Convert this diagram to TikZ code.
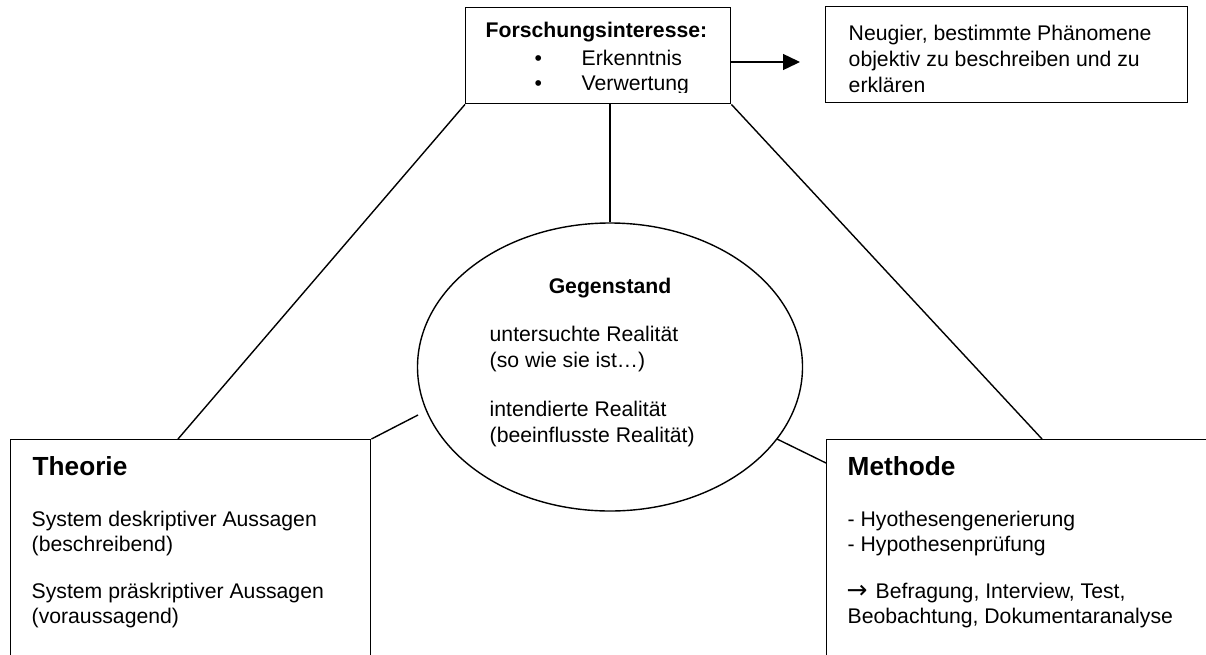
\documentclass[tikz,border=0pt]{standalone}
\usepackage{fontspec}
\setmainfont{Liberation Sans}
\newfontfamily\arrowfont{DejaVu Sans}
\usetikzlibrary{shapes.geometric,arrows.meta}

\begin{document}
\begin{tikzpicture}[x=1pt,y=-1pt,line width=1.4pt,
  box/.style={draw,rectangle,inner sep=0pt,anchor=north west},
  txt/.style={anchor=base west,inner sep=0pt,font=\fontsize{21.2}{25.7}\selectfont},
  bold/.style={anchor=base west,inner sep=0pt,font=\fontsize{21.2}{25.7}\selectfont\bfseries},
  title/.style={anchor=base west,inner sep=0pt,font=\fontsize{26.2}{30}\selectfont\bfseries},
  link/.style={draw,line width=1.4pt}]
\clip (0,0) rectangle (1206,654);

% boxes and the central ellipse
\node[box,minimum width=265pt,minimum height=96pt] (frage) at (465,7) {};
\node[box,minimum width=362pt,minimum height=96pt] (neugier) at (825,6) {};
\node[box,minimum width=360pt,minimum height=300pt] (theorie) at (10,439) {};
\node[box,minimum width=420pt,minimum height=300pt] (methode) at (826,439) {};
\node[draw,ellipse,inner sep=0pt,minimum width=385pt,minimum height=288pt] (gegen) at (610,367) {};

% free ends of the connectors
\coordinate (tip) at (800,62);
\coordinate (tlinks) at (178,439);
\coordinate (trechts) at (1042,439);
\coordinate (elinks) at (418,415);
\coordinate (mlinks) at (826,463);
\coordinate (erechts) at (777,439);

% connectors
\draw[-{Triangle[length=17pt,width=16pt]}] (frage.east |- tip) -- (tip);
\draw[link] (frage.south west) -- (tlinks);
\draw[link] (frage.south east) -- (trechts);
\draw[link] (gegen.north |- frage.south) -- (gegen.north);
\draw[link] (theorie.north east) -- (elinks);
\draw[link] (erechts) -- (mlinks);

% research interest (text box clips the last descender)
\begin{scope}
\clip (465,7) rectangle (730,92);
\node[bold] (fi) at (485,37) {Forschungsinteresse:};
\node[txt] (b1) at (534,65) {•};
\node[txt] (fi1) at (581,65) {Erkenntnis};
\node[txt] (b2) at (534,90) {•};
\node[txt] (fi2) at (581,90) {Verwertung};
\end{scope}

% curiosity
\node[txt] (n1) at (848,40) {Neugier, bestimmte Phänomene};
\node[txt] (n2) at (848,66) {objektiv zu beschreiben und zu};
\node[txt] (n3) at (848,92) {erklären};

% object of research
\node[bold,anchor=base] (g0) at (610,293) {Gegenstand};
\node[txt] (g1) at (489,341) {untersuchte Realität};
\node[txt] (g2) at (489,367) {(so wie sie ist…)};
\node[txt] (g3) at (489,416) {intendierte Realität};
\node[txt] (g4) at (489,442) {(beeinflusste Realität)};

% theory
\node[title] (t0) at (32,475) {Theorie};
\node[txt] (t1) at (31,526) {System deskriptiver Aussagen};
\node[txt] (t2) at (31,551) {(beschreibend)};
\node[txt] (t3) at (31,598) {System präskriptiver Aussagen};
\node[txt] (t4) at (31,623) {(voraussagend)};

% method
\node[title] (m0) at (847,475) {Methode};
\node[txt] (m1) at (847,526) {- Hyothesengenerierung};
\node[txt] (m2) at (847,551) {- Hypothesenprüfung};
\node[txt,font=\arrowfont\fontsize{25}{25}\selectfont] (m3a) at (846,598) {→};
\node[txt] (m3) at (875,598) {Befragung, Interview, Test,};
\node[txt] (m4) at (847,623) {Beobachtung, Dokumentaranalyse};
\end{tikzpicture}
\end{document}
